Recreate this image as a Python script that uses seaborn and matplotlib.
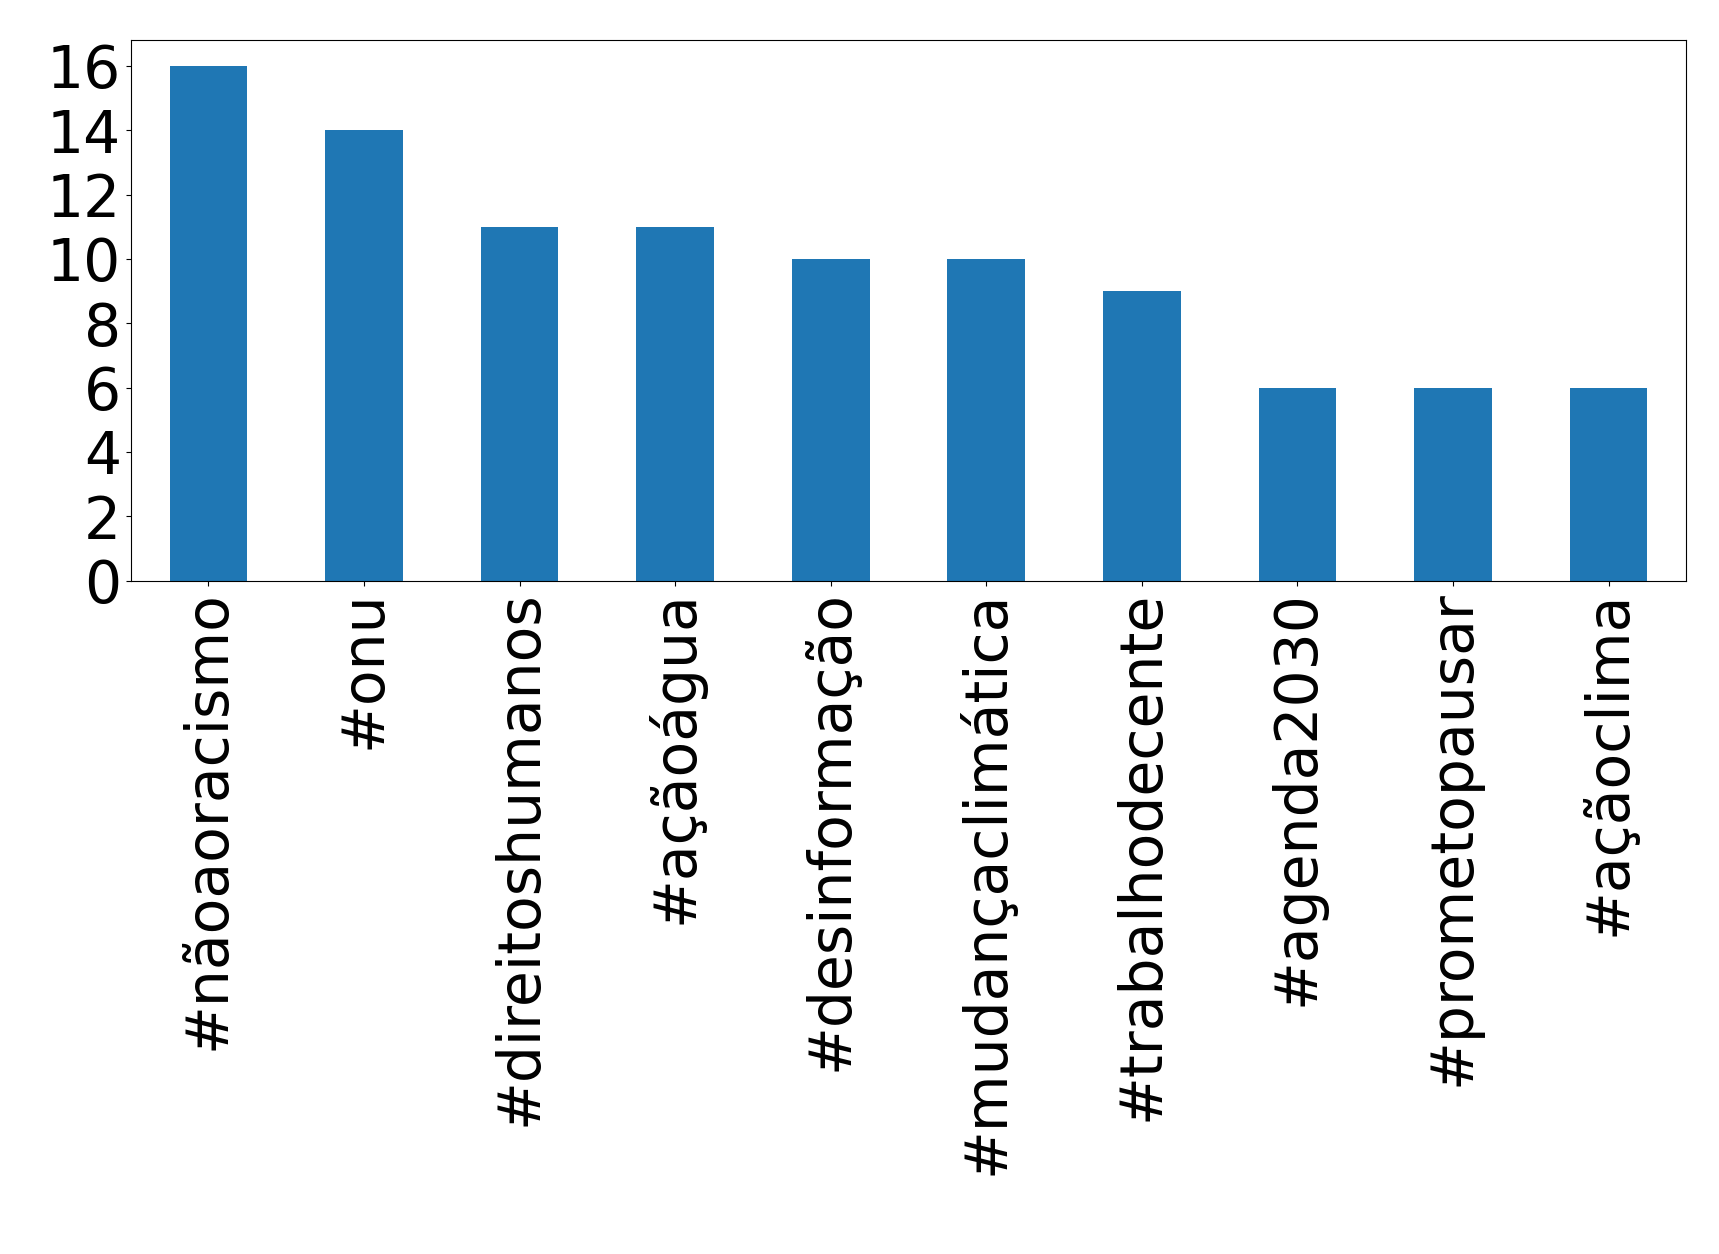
import matplotlib
matplotlib.use("Agg")
import matplotlib.pyplot as plt
import seaborn as sns
import pandas as pd

categories = ["#nãoaoracismo", "#onu", "#direitoshumanos", "#açãoágua", "#desinformação",
              "#mudançaclimática", "#trabalhodecente", "#agenda2030", "#prometopausar", "#açãoclima"]
values = [16, 14, 11, 11, 10, 10, 9, 6, 6, 6]

df = pd.DataFrame({"tag": categories, "count": values})
fig = plt.figure(figsize=(17.19, 12.54), dpi=100)
ax = fig.add_axes([0.076, 0.537, 0.905, 0.431])
sns.barplot(data=df, x="tag", y="count", color="#1f77b4", saturation=1, width=0.5, ax=ax)
ax.set_xlim(-0.5, 9.5)
ax.set_ylim(0, 16.8)
ax.set_yticks(range(0, 17, 2))
ax.set_xlabel("")
ax.set_ylabel("")
ax.tick_params(axis="both", labelsize=42)
plt.setp(ax.get_xticklabels(), rotation=90)
fig.savefig("out.png", dpi=100)
